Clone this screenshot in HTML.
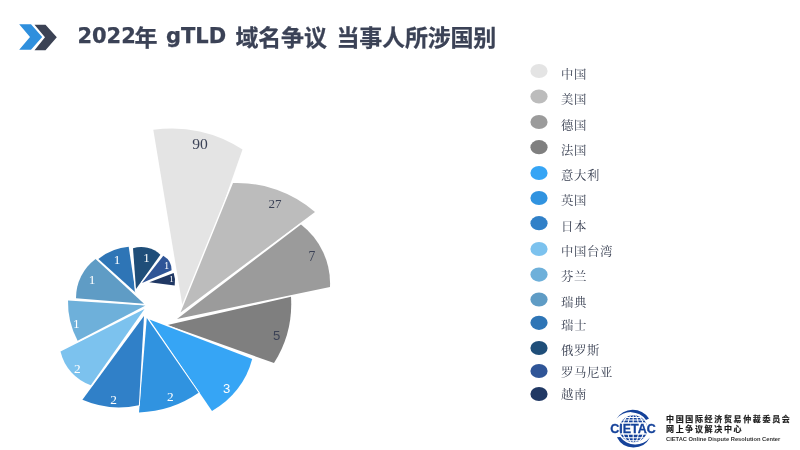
<!DOCTYPE html>
<html lang="zh-CN"><head><meta charset="utf-8"><title>2022年 gTLD 域名争议 当事人所涉国别</title>
<style>
html,body{margin:0;padding:0;background:#fff}
body{filter:blur(0.4px);width:800px;height:450px;position:relative;overflow:hidden;font-family:"Liberation Sans","Noto Sans CJK SC",sans-serif}
svg{position:absolute;left:0;top:0}
.t{position:absolute;white-space:nowrap;font-weight:bold;font-size:23px;line-height:30px;color:#3b4256;top:22.8px;-webkit-text-stroke:0.25px #3b4256}
.tl{font-family:"DejaVu Sans","Liberation Sans",sans-serif;font-size:21px;top:21.3px}
.lg{position:absolute;left:561px;white-space:nowrap;font-family:"Liberation Serif","Noto Serif CJK SC",serif;font-size:12.4px;letter-spacing:0.6px;line-height:16px;height:16px;color:#3a4153;font-weight:400}
.c1,.c2{position:absolute;left:666px;white-space:nowrap;font-weight:bold;font-size:8px;line-height:10px;letter-spacing:1.65px;color:#1a1a1a;-webkit-text-stroke:0.2px #1a1a1a}
.c3{position:absolute;left:666px;white-space:nowrap;font-weight:bold;font-size:5.75px;line-height:8px;color:#333}
</style></head><body>

<svg width="800" height="450" viewBox="0 0 800 450">
<polygon points="19.2,24.2 31,24.2 42.2,37 31,49.8 19.2,49.8 30,37" fill="#2f8fdd"/>
<polygon points="34.5,24.8 45.5,24.8 56.8,37.2 45.5,50.2 34.5,50.2 45,37.2" fill="#3b4254"/>
<g stroke="#fff" stroke-width="2.8" stroke-linejoin="miter" paint-order="stroke" style="paint-order:stroke">
<path d="M182.5,306 L153.3,129.8 A127.8,127.8 0 0 1 242.5,149.5 L215.6,226 Z" fill="#e4e4e4"/>
<path d="M180.5,312.5 L233,183 A119.3,119.3 0 0 1 315,212 Z" fill="#bcbcbc"/>
<path d="M177,319 L301,224.4 A74.4,74.4 0 0 1 330,287 Z" fill="#9b9b9b"/>
<path d="M167.5,325 L291,296.7 A111.0,111.0 0 0 1 274,363 Z" fill="#7f7f7f" stroke-width="2"/>
<path d="M149.5,319.5 L252.2,359 A82.8,82.8 0 0 1 212,410.9 Z" fill="#36a5f5"/>
<path d="M146.8,318 L198.6,392.8 A110.3,110.3 0 0 1 139,412.4 Z" fill="#3093e0" stroke-width="1.8"/>
<path d="M144,316 L138.9,405.2 A92.9,92.9 0 0 1 82.4,399.8 Z" fill="#3080c8" stroke-width="1.8"/>
<path d="M144.5,309 L90.8,385.3 A47.0,47.0 0 0 1 60.5,351.6 Z" fill="#7cc2ee"/>
<path d="M145.5,305.5 L77.6,340.8 A81.5,81.5 0 0 1 68,300.6 Z" fill="#6eb0da"/>
<path d="M144,303.8 L76,298.2 A48.5,48.5 0 0 1 95.6,259 Z" fill="#5f9cc5"/>
<path d="M135.5,292.5 L98.4,259 A54.9,54.9 0 0 1 128.7,246.7 Z" fill="#2e75b6"/>
<path d="M136,289 L133,248.3 A28.0,28.0 0 0 1 160.4,254.7 Z" fill="#1f4e79"/>
<path d="M142,283 L163.3,255.7 A16.8,16.8 0 0 1 171.6,270.3 Z" fill="#2f5597"/>
<path d="M149.3,282.3 L173.7,273 A24.2,24.2 0 0 1 174.7,285.4 Z" fill="#203864"/>
</g>
<g font-family="'Liberation Serif',serif" text-anchor="middle">
<text x="200.1" y="149.0" font-size="15.6" fill="#3b4256">90</text>
<text x="275" y="207.9" font-size="13" fill="#3b4256">27</text>
<text x="312" y="261.4" font-size="13.6" fill="#3b4256">7</text>
<text x="276.6" y="340.4" font-size="13.1" fill="#3b4256" font-family="'Liberation Sans',sans-serif">5</text>
<text x="226.6" y="392.5" font-size="13.1" fill="#ffffff" font-family="'Liberation Sans',sans-serif">3</text>
<text x="170.3" y="401.3" font-size="13.3" fill="#ffffff">2</text>
<text x="113.7" y="403.7" font-size="13.3" fill="#ffffff">2</text>
<text x="77.3" y="372.5" font-size="13.3" fill="#ffffff">2</text>
<text x="76.4" y="328.0" font-size="13.3" fill="#ffffff">1</text>
<text x="92.2" y="283.5" font-size="13.3" fill="#ffffff">1</text>
<text x="117" y="264.0" font-size="13.3" fill="#ffffff">1</text>
<text x="146.5" y="261.7" font-size="13" fill="#ffffff">1</text>
<text x="166.7" y="269.2" font-size="10.5" fill="#ffffff">1</text>
<text x="171.6" y="281.7" font-size="9" fill="#ffffff">1</text>
</g>
<ellipse cx="539" cy="71" rx="8.6" ry="7.1" fill="#e4e4e4"/>
<ellipse cx="539" cy="96.5" rx="8.6" ry="7.1" fill="#bcbcbc"/>
<ellipse cx="539" cy="122" rx="8.6" ry="7.1" fill="#9b9b9b"/>
<ellipse cx="539" cy="147.2" rx="8.6" ry="7.1" fill="#7f7f7f"/>
<ellipse cx="539" cy="173" rx="8.6" ry="7.1" fill="#36a5f5"/>
<ellipse cx="539" cy="198" rx="8.6" ry="7.1" fill="#3093e0"/>
<ellipse cx="539" cy="223.2" rx="8.6" ry="7.1" fill="#3080c8"/>
<ellipse cx="539" cy="249" rx="8.6" ry="7.1" fill="#7cc2ee"/>
<ellipse cx="539" cy="274.6" rx="8.6" ry="7.1" fill="#6eb0da"/>
<ellipse cx="539" cy="299.5" rx="8.6" ry="7.1" fill="#5f9cc5"/>
<ellipse cx="539" cy="322.8" rx="8.6" ry="7.1" fill="#2e75b6"/>
<ellipse cx="539" cy="348" rx="8.6" ry="7.1" fill="#1f4e79"/>
<ellipse cx="539" cy="371" rx="8.6" ry="7.1" fill="#2f5597"/>
<ellipse cx="539" cy="394" rx="8.6" ry="7.1" fill="#203864"/>
<g id="logo">
<defs><clipPath id="gc"><ellipse cx="633.4" cy="428.75" rx="14" ry="13.6"/></clipPath></defs>
<g clip-path="url(#gc)">
<rect x="617" y="414" width="32" height="30" fill="#15429a"/>
<g stroke="#fff" stroke-width="1.05" fill="none">
<line x1="633.2" y1="414" x2="633.2" y2="444"/>
<ellipse cx="633.2" cy="428.75" rx="5.6" ry="14.6"/>
<ellipse cx="633.2" cy="428.75" rx="10.6" ry="15"/>
<line x1="618" y1="417.5" x2="648" y2="417.5"/>
<line x1="618" y1="419.9" x2="648" y2="419.9"/>
<line x1="618" y1="437.8" x2="648" y2="437.8"/>
<line x1="618" y1="440.8" x2="648" y2="440.8"/>
</g>
<rect x="616" y="422.3" width="34" height="12.4" fill="#fff"/>
</g>
<path d="M616.25,419 A19.4,19.4 0 0 1 649,418.4 L646,420 A18.7,18.7 0 0 0 616.25,419 Z" fill="#15429a"/>
<path d="M650,437.5 A18.6,18.6 0 0 1 616.9,437.2 L620.3,436.9 A18.7,18.7 0 0 0 650,437.5 Z" fill="#15429a"/>
<text x="633" y="433" text-anchor="middle" font-family="'Liberation Sans',sans-serif" font-weight="bold" font-size="12.5" fill="#15429a" stroke="#15429a" stroke-width="0.3">CIETAC</text>
</g>
</svg>

<div class="t tl" style="left:77.4px">2022</div>
<div class="t" style="left:134.5px">年</div>
<div class="t tl" style="left:166px">gTLD</div>
<div class="t" style="left:235.5px;letter-spacing:-0.2px">域名争议</div>
<div class="t" style="left:336.5px;letter-spacing:-0.2px">当事人所涉国别</div>

<div class="lg" style="top:66.9px">中国</div>
<div class="lg" style="top:92.2px">美国</div>
<div class="lg" style="top:117.5px">德国</div>
<div class="lg" style="top:142.5px">法国</div>
<div class="lg" style="top:167.9px">意大利</div>
<div class="lg" style="top:193.3px">英国</div>
<div class="lg" style="top:218.9px">日本</div>
<div class="lg" style="top:244.2px">中国台湾</div>
<div class="lg" style="top:269.3px">芬兰</div>
<div class="lg" style="top:294.9px">瑞典</div>
<div class="lg" style="top:318.2px">瑞士</div>
<div class="lg" style="top:342.9px">俄罗斯</div>
<div class="lg" style="top:364.9px">罗马尼亚</div>
<div class="lg" style="top:386.9px">越南</div>

<div class="c1" style="top:415px">中国国际经济贸易仲裁委员会</div>
<div class="c2" style="top:425px">网上争议解决中心</div>
<div class="c3" style="top:435.3px">CIETAC Online Dispute Resolution Center</div>
</body></html>
